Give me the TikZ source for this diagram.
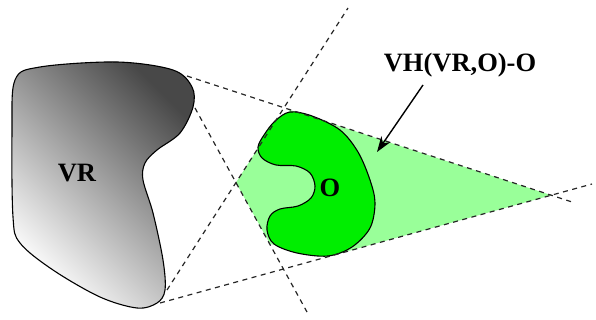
\documentclass[tikz,border=0pt]{standalone}
\usepackage{fontspec}
\setmainfont{Liberation Serif}
\usepackage{xcolor}
\definecolor{cObst}{HTML}{00EE00}
\definecolor{cHull}{HTML}{99FF99}
\definecolor{cRobot}{HTML}{484848}
\usetikzlibrary{arrows.meta,calc}
\tikzset{
  region-robot/.style={draw=black,line width=1.1pt,shading=axis,
    top color=cRobot,bottom color=white,shading angle=-45},
  region-obst/.style={draw=black,line width=1.1pt,fill=cObst},
  region-hull/.style={fill=cHull,draw=none},
  line-support/.style={draw=black!85,line width=1.2pt,dash pattern=on 5pt off 4.5pt},
  arrow/.style={-{Stealth[length=5.5mm,width=3.8mm]},line width=1.4pt},
  node-label/.style={font=\fontsize{26.5}{30}\selectfont\bfseries,inner sep=0pt},
}

\begin{document}
\begin{tikzpicture}[x=1pt,y=-1pt]
  \useasboundingbox (0,0) rectangle (596,320);
  % support lines
  \coordinate (topA) at (187,76);  \coordinate (topB) at (572,202);
  \coordinate (botA) at (160,303); \coordinate (botB) at (592,184);
  \coordinate (oneA) at (195,108); \coordinate (oneB) at (307,312);
  \coordinate (twoA) at (167,290); \coordinate (twoB) at (348,8);
  \coordinate (vL) at (intersection of oneA--oneB and twoA--twoB);
  \coordinate (vR) at (intersection of topA--topB and botA--botB);
  % hull
  \fill[region-hull] (vL) -- (262,142) -- (290,110) -- (vR)
    -- (330,256) -- (270,244) -- cycle;
  % VR
  \draw[region-robot] plot[smooth cycle,tension=0.55] coordinates {
    (15,80) (40,67) (117,62) (173,70) (192,87) (193,107) (180,133)
    (157,150) (145,163) (143,180) (153,213) (163,260) (165,290)
    (157,303) (137,308) (100,297) (53,270) (20,243) (13,217) (12,133)};
  % O
  \draw[region-obst] plot[smooth cycle,tension=0.55] coordinates {
    (290,112) (312,116) (340,130) (358,152) (370,180) (375,203)
    (370,228) (352,247) (328,256) (297,253) (274,244) (267,230)
    (270,216) (280,209) (298,206) (311,198) (315,186) (310,173)
    (296,166) (276,165) (262,158) (258,147) (264,135) (275,121)};
  \draw[line-support] (topA) -- (topB);
  \draw[line-support] (botA) -- (botB);
  \draw[line-support] (oneA) -- (oneB);
  \draw[line-support] (twoA) -- (twoB);
  \node[node-label] (vr) at (77,173) {VR};
  \node[node-label] (o) at (330,188) {O};
  \node[node-label] (lbl) at (460,65) {VH(VR,O)-O};
  \coordinate (tail) at (423,85);
  \coordinate (tip) at (377,152);
  \draw[arrow] (tail) -- (tip);
\end{tikzpicture}
\end{document}
